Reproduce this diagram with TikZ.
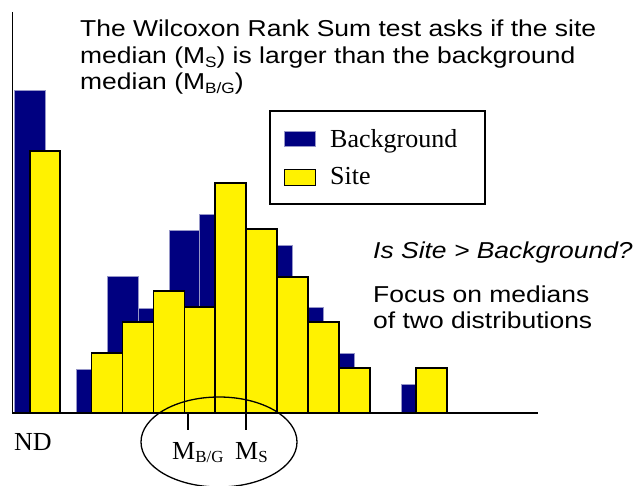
\documentclass[tikz,border=0pt]{standalone}
\usepackage{fontspec}
\setmainfont{Liberation Serif}
\newfontfamily\arialfont[FakeStretch=1.15]{Liberation Sans}
\usetikzlibrary{shapes.geometric}
\definecolor{bgblue}{RGB}{0,0,128}
\definecolor{bgedge}{RGB}{150,150,200}
\newcommand\lowsub[1]{\raisebox{-0.32ex}{\scalebox{0.65}{#1}}}
\tikzset{
  bgbar/.style={fill=bgblue, draw=bgedge, line width=0.6pt},
  sitebar/.style={fill=yellow, draw=black, line width=1.1pt},
  serif/.style={font=\fontsize{26}{30}\selectfont, inner sep=0pt, anchor=base west},
  sans/.style={font=\arialfont\fontsize{23}{26}\selectfont, inner sep=0pt, anchor=base west},
  axisline/.style={draw=black, line width=1.2pt},
  tickline/.style={draw=black, line width=1.1pt},
}
\begin{document}
\begin{tikzpicture}[x=1pt, y=-1pt]
\useasboundingbox (0,0) rectangle (635,486);

% heading
\node[sans] (t1) at (80,37) {The Wilcoxon Rank Sum test asks if the site};
\node[sans] (t2) at (80,63.5) {median (M\lowsub{S}) is larger than the background};
\node[sans] (t3) at (80,90) {median (M\lowsub{B/G})};

% axes
\coordinate (ytop) at (12,12);
\coordinate (orig) at (12,413);
\coordinate (xend) at (538,413);
\draw[axisline, line width=1pt] (ytop) -- (orig);

% background histogram (left/right/top)
\foreach \l/\r/\t in {14/45/90, 76/107/369, 107/138/276, 138/169/308,
    169/199/230, 199/230/214, 230/261/240, 261/292/245, 292/323/307,
    323/354/353, 401/432/384}
  \draw[bgbar] (\l,413) rectangle (\r,\t);

% site histogram (left/right/top)
\foreach \l/\r/\t in {30/60/151, 91.5/122.5/353, 122.5/153.3/322,
    153.3/184.2/291, 184.2/215/307, 215/246/183, 246/277/229,
    277/308/277, 308/339/322, 339/370/368, 416/447/368}
  \draw[sitebar] (\l,413) rectangle (\r,\t);

\draw[axisline] (orig) -- (xend);

% legend
\draw[black, line width=1.3pt] (270,111) rectangle (485,204);
\draw[bgbar] (284,131) rectangle (315,146);
\draw[sitebar, line width=0.9pt] (284,169) rectangle (315,185);
\node[serif] (lgbg) at (330,148) {Background};
\node[serif] (lgsite) at (330,185) {Site};

% side notes
\node[sans, font=\arialfont\itshape\fontsize{23}{26}\selectfont] (q) at (373,259) {Is Site > Background?};
\node[sans] (f1) at (373,303) {Focus on medians};
\node[sans] (f2) at (373,329) {of two distributions};

% medians
\coordinate (mbgtop) at (188,413);
\coordinate (mbgbot) at (188,430);
\coordinate (mstop) at (246,413);
\coordinate (msbot) at (246,430);
\draw[tickline] (mbgtop) -- (mbgbot);
\draw[tickline] (mstop) -- (msbot);
\node[serif] (nd) at (14,450) {ND};
\node[serif] (mbg) at (172,459) {M\lowsub{B/G}};
\node[serif] (ms) at (235,459) {M\lowsub{S}};
\draw[black, line width=1.3pt] (219,442) ellipse [x radius=78pt, y radius=45pt];
\end{tikzpicture}
\end{document}
